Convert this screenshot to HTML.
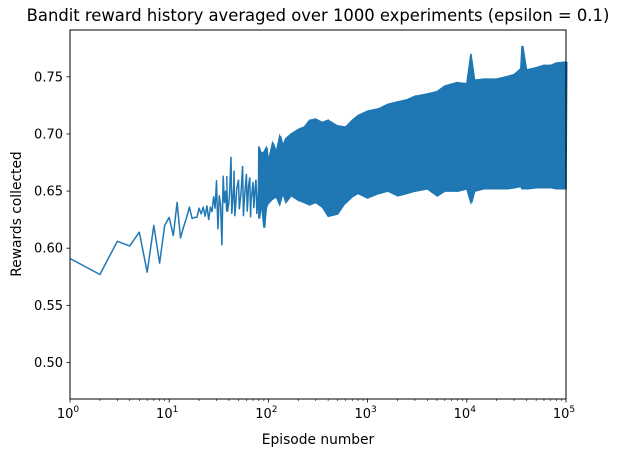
<!DOCTYPE html>
<html><head><meta charset="utf-8"><style>
body{margin:0;background:#fff;}
svg{display:block;font-family:"DejaVu Sans","Liberation Sans",sans-serif;}
</style></head><body>
<svg id="chart" width="624" height="457" viewBox="0 0 624 457">
<text x="318" y="21" text-anchor="middle" font-size="16.4">Bandit reward history averaged over 1000 experiments (epsilon = 0.1)</text>
<g id="plot"></g>
<g id="axes"></g>
<text x="318" y="444" text-anchor="middle" font-size="13.8">Episode number</text>
<text transform="translate(21,214) rotate(-90)" text-anchor="middle" font-size="13.8">Rewards collected</text>
</svg>
<script>
const earlyEpisodes=[1,2,3,4,5,6,7,8,9,10,11,12,13,14,15,16,17,18,19,20,21,22,23,24,25,26,27,28,29,30,31,32,33,34,35,36,37,38];
const earlyRewards=[0.591,0.577,0.606,0.602,0.614,0.579,0.620,0.587,0.620,0.627,0.611,0.640,0.609,0.619,0.627,0.636,0.626,0.627,0.627,0.635,0.630,0.636,0.628,0.637,0.625,0.636,0.632,0.645,0.635,0.659,0.617,0.646,0.638,0.603,0.663,0.640,0.650,0.632];
const bandEpisodes=[38,40,42,44,45,47,50,52,55,57,60,62,65,67,70,72,75,78,80,85,90,95,100,110,120,130,140,150,170,200,230,260,300,350,400,500,600,700,800,1000,1300,1600,2000,2500,3000,4000,5000,6000,8000,10000,11000,12000,15000,20000,25000,30000,35000,36000,40000,50000,60000,70000,80000,100000];
const bandHigh=[0.663,0.650,0.680,0.655,0.668,0.652,0.660,0.648,0.672,0.650,0.665,0.655,0.662,0.648,0.658,0.652,0.660,0.655,0.689,0.683,0.684,0.688,0.676,0.692,0.684,0.698,0.690,0.696,0.700,0.704,0.706,0.712,0.713,0.710,0.712,0.707,0.706,0.712,0.716,0.720,0.722,0.726,0.728,0.730,0.733,0.735,0.737,0.742,0.745,0.744,0.770,0.747,0.748,0.748,0.750,0.752,0.757,0.777,0.756,0.758,0.760,0.760,0.762,0.763];
const bandLow=[0.632,0.640,0.630,0.645,0.628,0.640,0.634,0.642,0.628,0.640,0.632,0.640,0.627,0.642,0.635,0.640,0.630,0.640,0.626,0.640,0.618,0.635,0.640,0.643,0.645,0.638,0.648,0.640,0.646,0.642,0.640,0.638,0.640,0.636,0.628,0.630,0.640,0.645,0.648,0.644,0.648,0.650,0.646,0.648,0.650,0.652,0.646,0.650,0.650,0.652,0.640,0.650,0.652,0.652,0.652,0.653,0.654,0.652,0.652,0.653,0.653,0.653,0.652,0.652];
const yTicks=[0.50,0.55,0.60,0.65,0.70,0.75];
const xDecades=[0,1,2,3,4,5];
const L=70,R=566,T=30,B=399,ymin=0.468,ymax=0.791;
const xs=v=>L+(Math.log10(v)/5)*(R-L);
const ys=v=>B-(v-ymin)/(ymax-ymin)*(B-T);
const NS='http://www.w3.org/2000/svg';
function mk(tag,attrs,parent){const e=document.createElementNS(NS,tag);for(const k in attrs)e.setAttribute(k,attrs[k]);parent.appendChild(e);return e;}
const plot=document.getElementById('plot'),axes=document.getElementById('axes');
let d=earlyEpisodes.map((e,i)=>(i?'L':'M')+xs(e).toFixed(1)+','+ys(earlyRewards[i]).toFixed(1)).join('');
const line=mk('path',{d:d,fill:'none',stroke:'#1f77b4','stroke-width':1.5,'stroke-linejoin':'round'},plot);


let zd='';
bandEpisodes.forEach((e,i)=>{const x=xs(e);
 const a=i%2?bandLow[i]:bandHigh[i], b=i%2?bandHigh[i]:bandLow[i];
 zd+=(i?'L':'M')+x.toFixed(1)+','+ys(a).toFixed(1)+'L'+(x+0.8).toFixed(1)+','+ys(b).toFixed(1);});
const zig=mk('path',{d:zd,fill:'none',stroke:'#1f77b4','stroke-width':1.5,'stroke-linejoin':'miter'},plot);


const start=bandEpisodes.findIndex(e=>e>=80);
let bd='';
for(let i=start;i<bandEpisodes.length;i++)bd+=(i>start?'L':'M')+xs(bandEpisodes[i]).toFixed(1)+','+ys(bandHigh[i]).toFixed(1);
for(let i=bandEpisodes.length-1;i>=start;i--)bd+='L'+xs(bandEpisodes[i]).toFixed(1)+','+ys(bandLow[i]).toFixed(1);
bd+='Z';
const band=mk('path',{d:bd,fill:'#1f77b4',stroke:'#1f77b4','stroke-width':1.5,'stroke-linejoin':'miter'},plot);


const frame=mk('rect',{x:L,y:T,width:R-L,height:B-T,fill:'none',stroke:'#000','stroke-width':1},axes);


yTicks.forEach(v=>{const y=ys(v);
 const t=mk('line',{x1:L-3.5,x2:L,y1:y,y2:y,stroke:'#000','stroke-width':0.8},axes);
 
 
 const tx=mk('text',{x:L-7,y:y+4.5,'text-anchor':'end','font-size':13},axes);tx.textContent=v.toFixed(2);
 
 });
xDecades.forEach(k=>{const x=xs(Math.pow(10,k));
 const t=mk('line',{x1:x,x2:x,y1:B,y2:B+3.5,stroke:'#000','stroke-width':0.8},axes);
 
 
 const tx=mk('text',{x:x-2,y:B+19,'text-anchor':'middle','font-size':13},axes);tx.textContent='10';
 
 
 const sp=mk('tspan',{dy:-6,'font-size':9},tx);sp.textContent=String(k);
 if(k<5)for(let m=2;m<10;m++){const xm=xs(m*Math.pow(10,k));
  const mt=mk('line',{x1:xm,x2:xm,y1:B,y2:B+2,stroke:'#000','stroke-width':0.6},axes);
  
  }
});
</script>
</body></html>
